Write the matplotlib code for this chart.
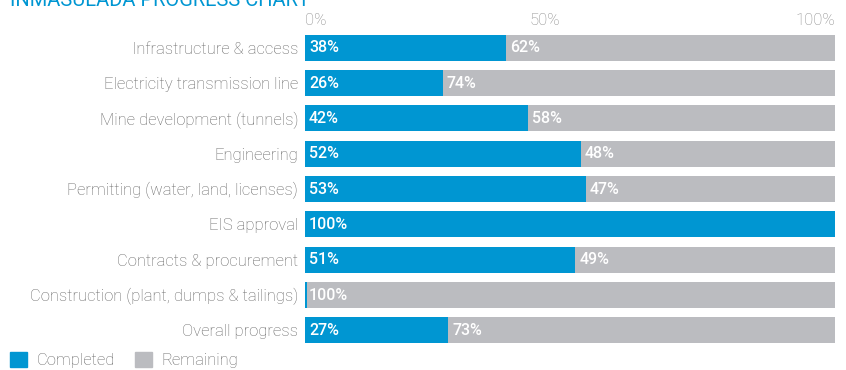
import matplotlib.pyplot as plt
from matplotlib.patches import Patch
import matplotlib.transforms as mtransforms

plt.rcParams['font.family'] = ['Roboto', 'DejaVu Sans']

# data
categories = ['Infrastructure & access', 'Electricity transmission line',
              'Mine development (tunnels)', 'Engineering',
              'Permitting (water, land, licenses)', 'EIS approval',
              'Contracts & procurement', 'Construction (plant, dumps & tailings)',
              'Overall progress']
completed = [38, 26, 42, 52, 53, 100, 51, 0, 27]
remaining = [62, 74, 58, 48, 47, 0, 49, 100, 73]
tick_vals = [0, 50, 100]
tick_labels = ['0%', '50%', '100%']

blue = '#0096D2'
grey = '#BBBCC0'
text_grey = '#666666'

fig = plt.figure(figsize=(8.46, 3.70), dpi=100)
ax = fig.add_axes([305 / 846, 1 - 348 / 370, 530 / 846, 318 / 370])

y = list(range(len(categories)))
ax.barh(y, completed, height=0.74, color=blue)
ax.barh(y, remaining, left=completed, height=0.74, color=grey)
# thin blue edge on the row with nothing completed
for i, c in enumerate(completed):
    if c == 0:
        ax.barh(i, 0.4, height=0.74, color=blue)

ax.set_xlim(0, 100)
ax.set_ylim(len(categories) - 0.5, -0.5)
ax.set_yticks(y)
ax.set_yticklabels(categories, fontsize=12, color=text_grey, fontweight='light')
ax.tick_params(axis='y', length=0, pad=5)
ax.set_xticks([])
for s in ax.spines.values():
    s.set_visible(False)

off = mtransforms.ScaledTranslation(4 / 100, 0, fig.dpi_scale_trans)
for i in y:
    if completed[i] > 0:
        ax.text(0, i, '%d%%' % completed[i], color='white', fontsize=11.5,
                fontweight='medium', va='center', ha='left',
                transform=ax.transData + off)
    if remaining[i] > 0:
        ax.text(completed[i], i, '%d%%' % remaining[i], color='white', fontsize=11.5,
                fontweight='medium', va='center', ha='left',
                transform=ax.transData + off)

# percentage scale on top
trans = mtransforms.blended_transform_factory(ax.transData, fig.transFigure)
aligns = ['left', 'center', 'right']
xpos = [0, 45.3, 100]
for v, lab, ha in zip(xpos, tick_labels, aligns):
    ax.text(v, 1 - 25 / 370, lab, color='#8a8a8a', fontsize=12, fontweight='light',
            ha=ha, va='baseline', transform=trans)

# title, partly cut off at the top as in the original
fig.text(10 / 846, 1 - 6 / 370, 'INMASULADA PROGRESS CHART', color=blue,
         fontsize=14.5, ha='left', va='baseline')

handles = [Patch(color=blue, label='Completed'), Patch(color=grey, label='Remaining')]
fig.legend(handles=handles, loc='lower left', bbox_to_anchor=(-0.006, -0.035),
           ncol=2, frameon=False, fontsize=12, handlelength=1.0, handleheight=1.0,
           handletextpad=0.6, columnspacing=1.2, labelcolor=text_grey,
           prop={'weight': 'light', 'size': 12})

fig.savefig('out.png', dpi=100)
